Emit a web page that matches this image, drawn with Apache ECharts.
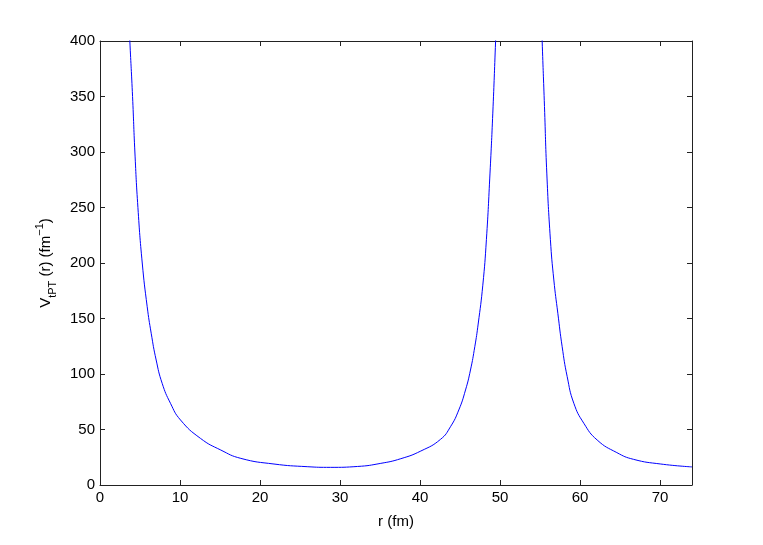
<!DOCTYPE html>
<html>
<head>
<meta charset="utf-8">
<script src="https://cdn.jsdelivr.net/npm/echarts@6/dist/echarts.min.js"></script>
<style>
  html, body { margin: 0; padding: 0; background: #fff; }
  #chart { width: 763px; height: 545px; }
</style>
</head>
<body>
<div id="chart"></div>
<script>
// r (fm); null in potential marks the break between the two poles
var rValues = [3.55, 3.73, 4.07, 4.36, 4.74, 5.28, 5.9, 6.4, 7.02, 7.77, 8.81, 10.06, 12.56, 15.1, 17.6,
  21.75, 25.9, 28.8, 32.2, 35.1, 37.6, 40.1, 42.56, 43.81, 44.85, 45.69, 46.31, 46.85, 47.27, 47.85, 48.3, 48.75, 49.1, 49.45, 49.65,
  52.3,
  55.1, 55.27, 55.56, 55.85, 56.3, 56.73, 57.23, 57.77, 58.4, 59.23, 60.48, 62.15, 64.6, 66.7, 70.1, 74.0];
var potential = [430, 400, 350, 300, 250, 200, 160.6, 136.7, 112.6, 91.6, 73.6, 58.6, 42, 31.5, 24,
  18.9, 16.5, 15.9, 16.7, 19.5, 23.7, 30.6, 41.1, 52.5, 67.6, 85.6, 103.6, 124.6, 145, 180, 221, 281, 335, 400, 440,
  null,
  440, 400, 341, 281, 221, 184.7, 154.7, 124.6, 97.6, 73.6, 55.6, 40.5, 29.2, 23.1, 18.9, 16.3];
var xTicks = [0, 10, 20, 30, 40, 50, 60, 70];
var yTicks = [0, 50, 100, 150, 200, 250, 300, 350, 400];

var seriesData = [];
for (var i = 0; i < rValues.length; i++) {
  seriesData.push(potential[i] === null ? [rValues[i], '-'] : [rValues[i], potential[i]]);
}

var chart = echarts.init(document.getElementById('chart'));
var font = '"Liberation Sans", Arial, sans-serif';
var lineStyle = { color: '#222', width: 1 };

// MATLAB-like box: inward ticks on all four sides
function boxAxis(extra) {
  var ax = {
    type: 'value',
    splitLine: { show: false },
    axisLine: { show: true, onZero: false, lineStyle: lineStyle },
    axisTick: { show: true, inside: true, length: 5, lineStyle: lineStyle },
    axisLabel: { show: false }
  };
  for (var k in extra) ax[k] = extra[k];
  return ax;
}

var option = {
  backgroundColor: '#fff',
  animation: false,
  grid: { left: 100, right: 71, top: 41, bottom: 60, show: false },
  xAxis: [
    boxAxis({
      min: 0, max: 74, position: 'bottom',
      axisTick: { show: true, inside: true, length: 5, lineStyle: lineStyle, customValues: xTicks },
      axisLabel: { show: true, color: '#000', fontSize: 15, fontFamily: font, margin: 5, customValues: xTicks },
      name: 'r (fm)', nameLocation: 'middle', nameGap: 29,
      nameTextStyle: { color: '#000', fontSize: 15, fontFamily: font }
    }),
    boxAxis({
      min: 0, max: 74, position: 'top',
      axisTick: { show: true, inside: true, length: 5, lineStyle: lineStyle, customValues: xTicks }
    })
  ],
  yAxis: [
    boxAxis({
      min: 0, max: 400, position: 'left',
      axisTick: { show: true, inside: true, length: 5, lineStyle: lineStyle, customValues: yTicks },
      axisLabel: { show: true, color: '#000', fontSize: 15, fontFamily: font, margin: 5, customValues: yTicks },
      name: '{n|V}{s|tPT}{n| (r) (fm}{p|−1}{n|)}', nameLocation: 'middle', nameGap: 42,
      nameTextStyle: {
        color: '#000', fontFamily: font, fontSize: 15,
        rich: {
          n: { fontSize: 15, fontFamily: font, color: '#000', verticalAlign: 'middle', lineHeight: 24 },
          s: { fontSize: 11, fontFamily: font, color: '#000', verticalAlign: 'bottom', lineHeight: 13 },
          p: { fontSize: 11, fontFamily: font, color: '#000', verticalAlign: 'top', lineHeight: 11 }
        }
      }
    }),
    boxAxis({
      min: 0, max: 400, position: 'right',
      axisTick: { show: true, inside: true, length: 5, lineStyle: lineStyle, customValues: yTicks }
    })
  ],
  series: [
    {
      type: 'line',
      data: seriesData,
      smooth: 0.5,
      showSymbol: false,
      clip: true,
      connectNulls: false,
      lineStyle: { color: '#0000ff', width: 1 }
    }
  ]
};
chart.setOption(option);
</script>
</body>
</html>
